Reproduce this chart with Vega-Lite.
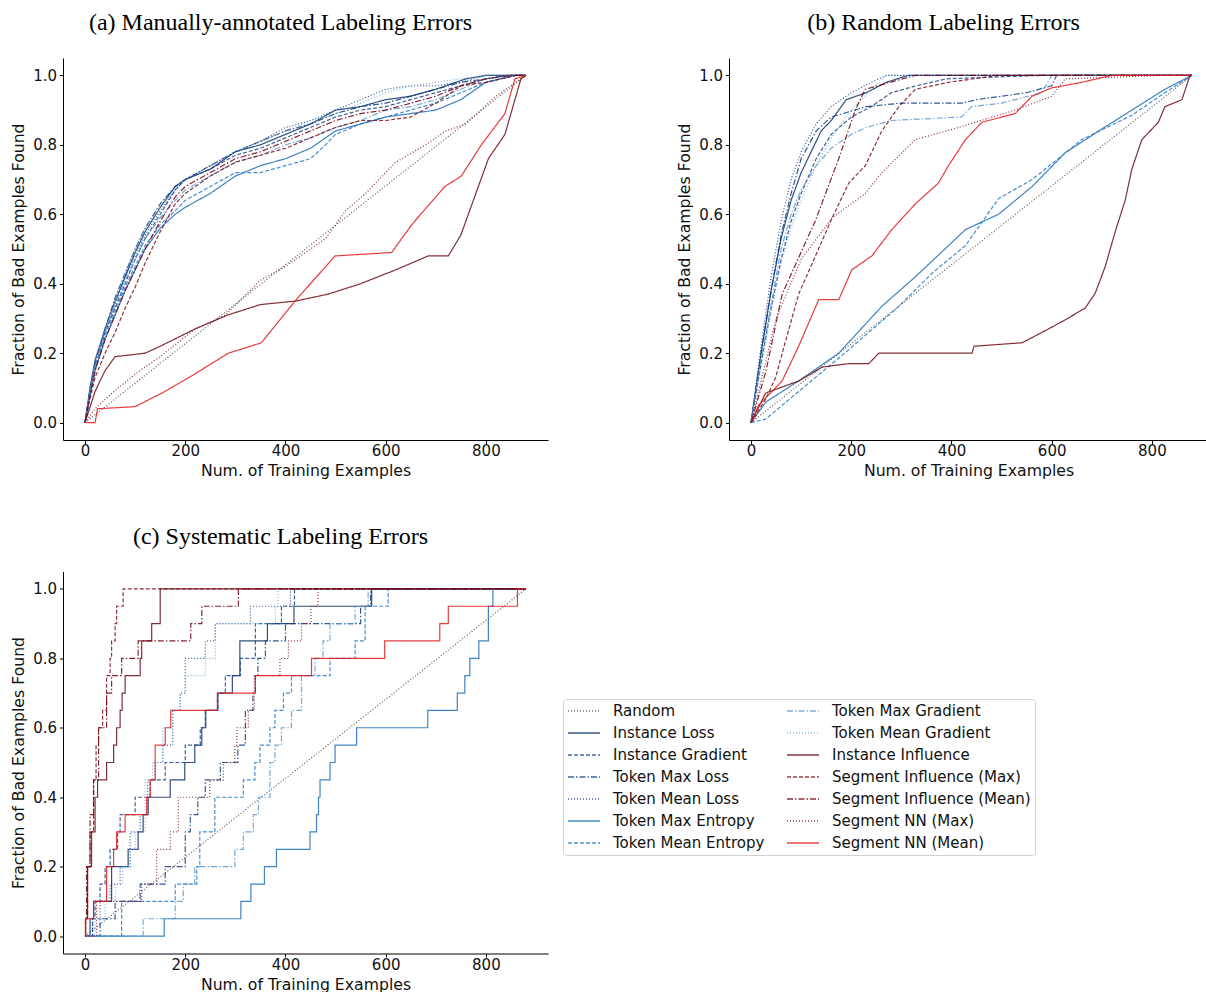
{
"$schema": "https://vega.github.io/schema/vega-lite/v6.json",
"padding": {"left": 10, "top": 11, "right": 0, "bottom": 0},
"background": "white",
"config": {
  "view": {"stroke": null},
  "axis": {"domainColor": "#000", "domainWidth": 1, "tickColor": "#000", "tickSize": 3.5, "tickWidth": 1, "labelFont": "DejaVu Sans", "labelFontSize": 15, "labelColor": "#111", "titleFont": "DejaVu Sans", "titleFontSize": 15.7, "titleFontWeight": "normal", "titleColor": "#111", "grid": false},
  "axisX": {"labelPadding": 0, "titlePadding": 5},
  "axisY": {"labelPadding": 3, "titlePadding": 6},
  "title": {"font": "Liberation Serif", "fontSize": 24, "fontWeight": "normal", "color": "#000", "anchor": "middle", "dx": -25, "offset": 23},
  "legend": {"orient": "none", "legendX": 500, "legendY": 641, "columns": 2, "labelFont": "DejaVu Sans", "labelFontSize": 15, "labelColor": "#111", "labelLimit": 300, "symbolType": "stroke", "symbolSize": 1024, "symbolStrokeWidth": 1.5, "symbolOpacity": 0.8, "clipHeight": 16, "rowPadding": 6, "columnPadding": 21, "padding": 4, "strokeColor": "#d0d0d0", "cornerRadius": 3, "fillColor": "white", "labelOffset": 12}
},
"datasets": {
"a": [
{"m":"Random","x":0,"y":0},{"m":"Random","x":880,"y":1},
{"m":"Instance Loss","x":0,"y":0},{"m":"Instance Loss","x":10,"y":0.1},{"m":"Instance Loss","x":20,"y":0.18},{"m":"Instance Loss","x":40,"y":0.27},{"m":"Instance Loss","x":60,"y":0.35},{"m":"Instance Loss","x":80,"y":0.42},{"m":"Instance Loss","x":100,"y":0.49},{"m":"Instance Loss","x":120,"y":0.55},{"m":"Instance Loss","x":150,"y":0.62},{"m":"Instance Loss","x":180,"y":0.68},{"m":"Instance Loss","x":200,"y":0.7},{"m":"Instance Loss","x":250,"y":0.73},{"m":"Instance Loss","x":300,"y":0.78},{"m":"Instance Loss","x":350,"y":0.8},{"m":"Instance Loss","x":400,"y":0.83},{"m":"Instance Loss","x":450,"y":0.86},{"m":"Instance Loss","x":500,"y":0.9},{"m":"Instance Loss","x":550,"y":0.91},{"m":"Instance Loss","x":600,"y":0.93},{"m":"Instance Loss","x":650,"y":0.94},{"m":"Instance Loss","x":700,"y":0.96},{"m":"Instance Loss","x":760,"y":0.99},{"m":"Instance Loss","x":800,"y":1.0},{"m":"Instance Loss","x":880,"y":1.0},
{"m":"Instance Gradient","x":0,"y":0},{"m":"Instance Gradient","x":10,"y":0.09},{"m":"Instance Gradient","x":20,"y":0.16},{"m":"Instance Gradient","x":40,"y":0.26},{"m":"Instance Gradient","x":60,"y":0.33},{"m":"Instance Gradient","x":80,"y":0.4},{"m":"Instance Gradient","x":100,"y":0.47},{"m":"Instance Gradient","x":120,"y":0.53},{"m":"Instance Gradient","x":150,"y":0.6},{"m":"Instance Gradient","x":180,"y":0.67},{"m":"Instance Gradient","x":200,"y":0.7},{"m":"Instance Gradient","x":250,"y":0.73},{"m":"Instance Gradient","x":300,"y":0.77},{"m":"Instance Gradient","x":350,"y":0.79},{"m":"Instance Gradient","x":400,"y":0.82},{"m":"Instance Gradient","x":450,"y":0.85},{"m":"Instance Gradient","x":500,"y":0.88},{"m":"Instance Gradient","x":550,"y":0.9},{"m":"Instance Gradient","x":600,"y":0.91},{"m":"Instance Gradient","x":650,"y":0.93},{"m":"Instance Gradient","x":700,"y":0.95},{"m":"Instance Gradient","x":750,"y":0.97},{"m":"Instance Gradient","x":800,"y":0.99},{"m":"Instance Gradient","x":850,"y":1.0},{"m":"Instance Gradient","x":880,"y":1.0},
{"m":"Token Max Loss","x":0,"y":0},{"m":"Token Max Loss","x":10,"y":0.1},{"m":"Token Max Loss","x":20,"y":0.17},{"m":"Token Max Loss","x":40,"y":0.27},{"m":"Token Max Loss","x":60,"y":0.36},{"m":"Token Max Loss","x":80,"y":0.43},{"m":"Token Max Loss","x":100,"y":0.5},{"m":"Token Max Loss","x":120,"y":0.56},{"m":"Token Max Loss","x":150,"y":0.63},{"m":"Token Max Loss","x":180,"y":0.68},{"m":"Token Max Loss","x":200,"y":0.7},{"m":"Token Max Loss","x":250,"y":0.74},{"m":"Token Max Loss","x":300,"y":0.78},{"m":"Token Max Loss","x":350,"y":0.81},{"m":"Token Max Loss","x":400,"y":0.84},{"m":"Token Max Loss","x":450,"y":0.86},{"m":"Token Max Loss","x":500,"y":0.89},{"m":"Token Max Loss","x":550,"y":0.91},{"m":"Token Max Loss","x":600,"y":0.92},{"m":"Token Max Loss","x":650,"y":0.94},{"m":"Token Max Loss","x":700,"y":0.96},{"m":"Token Max Loss","x":750,"y":0.98},{"m":"Token Max Loss","x":800,"y":0.99},{"m":"Token Max Loss","x":840,"y":1.0},{"m":"Token Max Loss","x":880,"y":1.0},
{"m":"Token Mean Loss","x":0,"y":0},{"m":"Token Mean Loss","x":10,"y":0.09},{"m":"Token Mean Loss","x":20,"y":0.17},{"m":"Token Mean Loss","x":40,"y":0.26},{"m":"Token Mean Loss","x":60,"y":0.34},{"m":"Token Mean Loss","x":80,"y":0.42},{"m":"Token Mean Loss","x":100,"y":0.48},{"m":"Token Mean Loss","x":120,"y":0.54},{"m":"Token Mean Loss","x":150,"y":0.61},{"m":"Token Mean Loss","x":180,"y":0.67},{"m":"Token Mean Loss","x":200,"y":0.7},{"m":"Token Mean Loss","x":250,"y":0.74},{"m":"Token Mean Loss","x":300,"y":0.78},{"m":"Token Mean Loss","x":350,"y":0.81},{"m":"Token Mean Loss","x":400,"y":0.85},{"m":"Token Mean Loss","x":450,"y":0.87},{"m":"Token Mean Loss","x":500,"y":0.9},{"m":"Token Mean Loss","x":550,"y":0.93},{"m":"Token Mean Loss","x":600,"y":0.96},{"m":"Token Mean Loss","x":650,"y":0.97},{"m":"Token Mean Loss","x":700,"y":0.97},{"m":"Token Mean Loss","x":750,"y":0.98},{"m":"Token Mean Loss","x":800,"y":1.0},{"m":"Token Mean Loss","x":880,"y":1.0},
{"m":"Token Max Entropy","x":0,"y":0},{"m":"Token Max Entropy","x":10,"y":0.08},{"m":"Token Max Entropy","x":20,"y":0.15},{"m":"Token Max Entropy","x":40,"y":0.24},{"m":"Token Max Entropy","x":60,"y":0.31},{"m":"Token Max Entropy","x":80,"y":0.38},{"m":"Token Max Entropy","x":100,"y":0.44},{"m":"Token Max Entropy","x":120,"y":0.5},{"m":"Token Max Entropy","x":150,"y":0.56},{"m":"Token Max Entropy","x":180,"y":0.6},{"m":"Token Max Entropy","x":200,"y":0.62},{"m":"Token Max Entropy","x":250,"y":0.66},{"m":"Token Max Entropy","x":300,"y":0.71},{"m":"Token Max Entropy","x":350,"y":0.74},{"m":"Token Max Entropy","x":400,"y":0.76},{"m":"Token Max Entropy","x":450,"y":0.79},{"m":"Token Max Entropy","x":500,"y":0.84},{"m":"Token Max Entropy","x":550,"y":0.86},{"m":"Token Max Entropy","x":600,"y":0.88},{"m":"Token Max Entropy","x":650,"y":0.89},{"m":"Token Max Entropy","x":700,"y":0.9},{"m":"Token Max Entropy","x":750,"y":0.93},{"m":"Token Max Entropy","x":800,"y":0.98},{"m":"Token Max Entropy","x":860,"y":1.0},{"m":"Token Max Entropy","x":880,"y":1.0},
{"m":"Token Mean Entropy","x":0,"y":0},{"m":"Token Mean Entropy","x":10,"y":0.08},{"m":"Token Mean Entropy","x":20,"y":0.15},{"m":"Token Mean Entropy","x":40,"y":0.25},{"m":"Token Mean Entropy","x":60,"y":0.32},{"m":"Token Mean Entropy","x":80,"y":0.39},{"m":"Token Mean Entropy","x":100,"y":0.45},{"m":"Token Mean Entropy","x":120,"y":0.51},{"m":"Token Mean Entropy","x":150,"y":0.57},{"m":"Token Mean Entropy","x":180,"y":0.61},{"m":"Token Mean Entropy","x":200,"y":0.64},{"m":"Token Mean Entropy","x":250,"y":0.68},{"m":"Token Mean Entropy","x":300,"y":0.72},{"m":"Token Mean Entropy","x":350,"y":0.72},{"m":"Token Mean Entropy","x":400,"y":0.74},{"m":"Token Mean Entropy","x":450,"y":0.76},{"m":"Token Mean Entropy","x":480,"y":0.8},{"m":"Token Mean Entropy","x":500,"y":0.83},{"m":"Token Mean Entropy","x":550,"y":0.86},{"m":"Token Mean Entropy","x":600,"y":0.88},{"m":"Token Mean Entropy","x":650,"y":0.9},{"m":"Token Mean Entropy","x":700,"y":0.92},{"m":"Token Mean Entropy","x":750,"y":0.95},{"m":"Token Mean Entropy","x":800,"y":0.98},{"m":"Token Mean Entropy","x":860,"y":1.0},{"m":"Token Mean Entropy","x":880,"y":1.0},
{"m":"Token Max Gradient","x":0,"y":0},{"m":"Token Max Gradient","x":10,"y":0.09},{"m":"Token Max Gradient","x":20,"y":0.16},{"m":"Token Max Gradient","x":40,"y":0.26},{"m":"Token Max Gradient","x":60,"y":0.34},{"m":"Token Max Gradient","x":80,"y":0.41},{"m":"Token Max Gradient","x":100,"y":0.47},{"m":"Token Max Gradient","x":120,"y":0.53},{"m":"Token Max Gradient","x":150,"y":0.59},{"m":"Token Max Gradient","x":180,"y":0.64},{"m":"Token Max Gradient","x":200,"y":0.67},{"m":"Token Max Gradient","x":250,"y":0.71},{"m":"Token Max Gradient","x":300,"y":0.75},{"m":"Token Max Gradient","x":350,"y":0.77},{"m":"Token Max Gradient","x":400,"y":0.8},{"m":"Token Max Gradient","x":450,"y":0.82},{"m":"Token Max Gradient","x":500,"y":0.85},{"m":"Token Max Gradient","x":550,"y":0.87},{"m":"Token Max Gradient","x":600,"y":0.9},{"m":"Token Max Gradient","x":650,"y":0.91},{"m":"Token Max Gradient","x":700,"y":0.93},{"m":"Token Max Gradient","x":750,"y":0.96},{"m":"Token Max Gradient","x":800,"y":0.99},{"m":"Token Max Gradient","x":850,"y":1.0},{"m":"Token Max Gradient","x":880,"y":1.0},
{"m":"Token Mean Gradient","x":0,"y":0},{"m":"Token Mean Gradient","x":10,"y":0.1},{"m":"Token Mean Gradient","x":20,"y":0.18},{"m":"Token Mean Gradient","x":40,"y":0.27},{"m":"Token Mean Gradient","x":60,"y":0.35},{"m":"Token Mean Gradient","x":80,"y":0.43},{"m":"Token Mean Gradient","x":100,"y":0.5},{"m":"Token Mean Gradient","x":120,"y":0.56},{"m":"Token Mean Gradient","x":150,"y":0.62},{"m":"Token Mean Gradient","x":180,"y":0.67},{"m":"Token Mean Gradient","x":200,"y":0.7},{"m":"Token Mean Gradient","x":250,"y":0.74},{"m":"Token Mean Gradient","x":300,"y":0.78},{"m":"Token Mean Gradient","x":350,"y":0.81},{"m":"Token Mean Gradient","x":400,"y":0.84},{"m":"Token Mean Gradient","x":450,"y":0.87},{"m":"Token Mean Gradient","x":500,"y":0.89},{"m":"Token Mean Gradient","x":550,"y":0.92},{"m":"Token Mean Gradient","x":600,"y":0.95},{"m":"Token Mean Gradient","x":650,"y":0.97},{"m":"Token Mean Gradient","x":700,"y":0.98},{"m":"Token Mean Gradient","x":750,"y":0.99},{"m":"Token Mean Gradient","x":800,"y":1.0},{"m":"Token Mean Gradient","x":880,"y":1.0},
{"m":"Instance Influence","x":0,"y":0},{"m":"Instance Influence","x":20,"y":0.09},{"m":"Instance Influence","x":40,"y":0.15},{"m":"Instance Influence","x":60,"y":0.19},{"m":"Instance Influence","x":120,"y":0.2},{"m":"Instance Influence","x":150,"y":0.22},{"m":"Instance Influence","x":220,"y":0.27},{"m":"Instance Influence","x":285,"y":0.31},{"m":"Instance Influence","x":350,"y":0.34},{"m":"Instance Influence","x":420,"y":0.35},{"m":"Instance Influence","x":485,"y":0.37},{"m":"Instance Influence","x":550,"y":0.4},{"m":"Instance Influence","x":620,"y":0.44},{"m":"Instance Influence","x":685,"y":0.48},{"m":"Instance Influence","x":725,"y":0.48},{"m":"Instance Influence","x":750,"y":0.54},{"m":"Instance Influence","x":785,"y":0.68},{"m":"Instance Influence","x":805,"y":0.76},{"m":"Instance Influence","x":838,"y":0.83},{"m":"Instance Influence","x":870,"y":0.99},{"m":"Instance Influence","x":880,"y":1.0},
{"m":"Segment Influence (Max)","x":0,"y":0},{"m":"Segment Influence (Max)","x":10,"y":0.07},{"m":"Segment Influence (Max)","x":20,"y":0.13},{"m":"Segment Influence (Max)","x":40,"y":0.2},{"m":"Segment Influence (Max)","x":60,"y":0.26},{"m":"Segment Influence (Max)","x":80,"y":0.33},{"m":"Segment Influence (Max)","x":100,"y":0.39},{"m":"Segment Influence (Max)","x":120,"y":0.46},{"m":"Segment Influence (Max)","x":150,"y":0.55},{"m":"Segment Influence (Max)","x":180,"y":0.63},{"m":"Segment Influence (Max)","x":200,"y":0.66},{"m":"Segment Influence (Max)","x":250,"y":0.71},{"m":"Segment Influence (Max)","x":300,"y":0.75},{"m":"Segment Influence (Max)","x":350,"y":0.77},{"m":"Segment Influence (Max)","x":400,"y":0.79},{"m":"Segment Influence (Max)","x":450,"y":0.82},{"m":"Segment Influence (Max)","x":500,"y":0.85},{"m":"Segment Influence (Max)","x":550,"y":0.87},{"m":"Segment Influence (Max)","x":600,"y":0.87},{"m":"Segment Influence (Max)","x":650,"y":0.88},{"m":"Segment Influence (Max)","x":700,"y":0.92},{"m":"Segment Influence (Max)","x":750,"y":0.97},{"m":"Segment Influence (Max)","x":800,"y":0.98},{"m":"Segment Influence (Max)","x":860,"y":1.0},{"m":"Segment Influence (Max)","x":880,"y":1.0},
{"m":"Segment Influence (Mean)","x":0,"y":0},{"m":"Segment Influence (Mean)","x":10,"y":0.08},{"m":"Segment Influence (Mean)","x":20,"y":0.15},{"m":"Segment Influence (Mean)","x":40,"y":0.24},{"m":"Segment Influence (Mean)","x":60,"y":0.31},{"m":"Segment Influence (Mean)","x":80,"y":0.38},{"m":"Segment Influence (Mean)","x":100,"y":0.44},{"m":"Segment Influence (Mean)","x":120,"y":0.5},{"m":"Segment Influence (Mean)","x":150,"y":0.58},{"m":"Segment Influence (Mean)","x":180,"y":0.65},{"m":"Segment Influence (Mean)","x":200,"y":0.68},{"m":"Segment Influence (Mean)","x":250,"y":0.72},{"m":"Segment Influence (Mean)","x":300,"y":0.76},{"m":"Segment Influence (Mean)","x":350,"y":0.78},{"m":"Segment Influence (Mean)","x":400,"y":0.81},{"m":"Segment Influence (Mean)","x":450,"y":0.84},{"m":"Segment Influence (Mean)","x":500,"y":0.87},{"m":"Segment Influence (Mean)","x":550,"y":0.89},{"m":"Segment Influence (Mean)","x":600,"y":0.9},{"m":"Segment Influence (Mean)","x":650,"y":0.92},{"m":"Segment Influence (Mean)","x":700,"y":0.94},{"m":"Segment Influence (Mean)","x":750,"y":0.97},{"m":"Segment Influence (Mean)","x":800,"y":0.99},{"m":"Segment Influence (Mean)","x":850,"y":1.0},{"m":"Segment Influence (Mean)","x":880,"y":1.0},
{"m":"Segment NN (Max)","x":0,"y":0},{"m":"Segment NN (Max)","x":20,"y":0.04},{"m":"Segment NN (Max)","x":50,"y":0.08},{"m":"Segment NN (Max)","x":100,"y":0.14},{"m":"Segment NN (Max)","x":150,"y":0.19},{"m":"Segment NN (Max)","x":220,"y":0.27},{"m":"Segment NN (Max)","x":280,"y":0.31},{"m":"Segment NN (Max)","x":350,"y":0.41},{"m":"Segment NN (Max)","x":400,"y":0.45},{"m":"Segment NN (Max)","x":450,"y":0.5},{"m":"Segment NN (Max)","x":480,"y":0.53},{"m":"Segment NN (Max)","x":520,"y":0.61},{"m":"Segment NN (Max)","x":560,"y":0.66},{"m":"Segment NN (Max)","x":620,"y":0.75},{"m":"Segment NN (Max)","x":680,"y":0.8},{"m":"Segment NN (Max)","x":720,"y":0.84},{"m":"Segment NN (Max)","x":760,"y":0.86},{"m":"Segment NN (Max)","x":820,"y":0.94},{"m":"Segment NN (Max)","x":860,"y":0.98},{"m":"Segment NN (Max)","x":880,"y":1.0},
{"m":"Segment NN (Mean)","x":0,"y":0},{"m":"Segment NN (Mean)","x":20,"y":0.0},{"m":"Segment NN (Mean)","x":25,"y":0.04},{"m":"Segment NN (Mean)","x":100,"y":0.046},{"m":"Segment NN (Mean)","x":153,"y":0.085},{"m":"Segment NN (Mean)","x":219,"y":0.14},{"m":"Segment NN (Mean)","x":286,"y":0.2},{"m":"Segment NN (Mean)","x":352,"y":0.23},{"m":"Segment NN (Mean)","x":419,"y":0.35},{"m":"Segment NN (Mean)","x":499,"y":0.48},{"m":"Segment NN (Mean)","x":612,"y":0.49},{"m":"Segment NN (Mean)","x":652,"y":0.57},{"m":"Segment NN (Mean)","x":718,"y":0.68},{"m":"Segment NN (Mean)","x":751,"y":0.71},{"m":"Segment NN (Mean)","x":791,"y":0.8},{"m":"Segment NN (Mean)","x":838,"y":0.89},{"m":"Segment NN (Mean)","x":858,"y":0.99},{"m":"Segment NN (Mean)","x":880,"y":1.0}
],
"b": [
{"m":"Random","x":0,"y":0},{"m":"Random","x":880,"y":1},
{"m":"Instance Loss","x":0,"y":0},{"m":"Instance Loss","x":20,"y":0.2},{"m":"Instance Loss","x":40,"y":0.38},{"m":"Instance Loss","x":60,"y":0.53},{"m":"Instance Loss","x":80,"y":0.64},{"m":"Instance Loss","x":100,"y":0.72},{"m":"Instance Loss","x":120,"y":0.78},{"m":"Instance Loss","x":140,"y":0.84},{"m":"Instance Loss","x":160,"y":0.87},{"m":"Instance Loss","x":190,"y":0.93},{"m":"Instance Loss","x":230,"y":0.95},{"m":"Instance Loss","x":270,"y":0.98},{"m":"Instance Loss","x":314,"y":1.0},{"m":"Instance Loss","x":880,"y":1.0},
{"m":"Instance Gradient","x":0,"y":0},{"m":"Instance Gradient","x":20,"y":0.17},{"m":"Instance Gradient","x":40,"y":0.33},{"m":"Instance Gradient","x":60,"y":0.47},{"m":"Instance Gradient","x":80,"y":0.58},{"m":"Instance Gradient","x":100,"y":0.66},{"m":"Instance Gradient","x":130,"y":0.76},{"m":"Instance Gradient","x":160,"y":0.83},{"m":"Instance Gradient","x":200,"y":0.88},{"m":"Instance Gradient","x":240,"y":0.91},{"m":"Instance Gradient","x":280,"y":0.95},{"m":"Instance Gradient","x":330,"y":0.97},{"m":"Instance Gradient","x":390,"y":0.99},{"m":"Instance Gradient","x":580,"y":1.0},{"m":"Instance Gradient","x":880,"y":1.0},
{"m":"Token Max Loss","x":0,"y":0},{"m":"Token Max Loss","x":20,"y":0.2},{"m":"Token Max Loss","x":40,"y":0.38},{"m":"Token Max Loss","x":60,"y":0.54},{"m":"Token Max Loss","x":80,"y":0.66},{"m":"Token Max Loss","x":100,"y":0.76},{"m":"Token Max Loss","x":130,"y":0.84},{"m":"Token Max Loss","x":160,"y":0.88},{"m":"Token Max Loss","x":230,"y":0.91},{"m":"Token Max Loss","x":300,"y":0.92},{"m":"Token Max Loss","x":420,"y":0.92},{"m":"Token Max Loss","x":450,"y":0.93},{"m":"Token Max Loss","x":500,"y":0.94},{"m":"Token Max Loss","x":550,"y":0.95},{"m":"Token Max Loss","x":600,"y":0.97},{"m":"Token Max Loss","x":610,"y":1.0},{"m":"Token Max Loss","x":880,"y":1.0},
{"m":"Token Mean Loss","x":0,"y":0},{"m":"Token Mean Loss","x":20,"y":0.22},{"m":"Token Mean Loss","x":40,"y":0.42},{"m":"Token Mean Loss","x":60,"y":0.58},{"m":"Token Mean Loss","x":80,"y":0.7},{"m":"Token Mean Loss","x":100,"y":0.78},{"m":"Token Mean Loss","x":130,"y":0.86},{"m":"Token Mean Loss","x":160,"y":0.91},{"m":"Token Mean Loss","x":200,"y":0.95},{"m":"Token Mean Loss","x":240,"y":0.98},{"m":"Token Mean Loss","x":270,"y":1.0},{"m":"Token Mean Loss","x":880,"y":1.0},
{"m":"Token Max Entropy","x":0,"y":0},{"m":"Token Max Entropy","x":30,"y":0.06},{"m":"Token Max Entropy","x":95,"y":0.12},{"m":"Token Max Entropy","x":175,"y":0.2},{"m":"Token Max Entropy","x":261,"y":0.335},{"m":"Token Max Entropy","x":328,"y":0.42},{"m":"Token Max Entropy","x":428,"y":0.556},{"m":"Token Max Entropy","x":494,"y":0.6},{"m":"Token Max Entropy","x":561,"y":0.68},{"m":"Token Max Entropy","x":627,"y":0.777},{"m":"Token Max Entropy","x":694,"y":0.84},{"m":"Token Max Entropy","x":760,"y":0.9},{"m":"Token Max Entropy","x":826,"y":0.96},{"m":"Token Max Entropy","x":880,"y":1.0},
{"m":"Token Mean Entropy","x":0,"y":0},{"m":"Token Mean Entropy","x":29,"y":0.01},{"m":"Token Mean Entropy","x":95,"y":0.09},{"m":"Token Mean Entropy","x":195,"y":0.21},{"m":"Token Mean Entropy","x":295,"y":0.335},{"m":"Token Mean Entropy","x":361,"y":0.43},{"m":"Token Mean Entropy","x":428,"y":0.51},{"m":"Token Mean Entropy","x":494,"y":0.645},{"m":"Token Mean Entropy","x":561,"y":0.7},{"m":"Token Mean Entropy","x":660,"y":0.815},{"m":"Token Mean Entropy","x":760,"y":0.885},{"m":"Token Mean Entropy","x":826,"y":0.95},{"m":"Token Mean Entropy","x":880,"y":1.0},
{"m":"Token Max Gradient","x":0,"y":0},{"m":"Token Max Gradient","x":20,"y":0.18},{"m":"Token Max Gradient","x":40,"y":0.34},{"m":"Token Max Gradient","x":60,"y":0.5},{"m":"Token Max Gradient","x":80,"y":0.6},{"m":"Token Max Gradient","x":100,"y":0.67},{"m":"Token Max Gradient","x":130,"y":0.74},{"m":"Token Max Gradient","x":160,"y":0.79},{"m":"Token Max Gradient","x":200,"y":0.83},{"m":"Token Max Gradient","x":230,"y":0.85},{"m":"Token Max Gradient","x":280,"y":0.87},{"m":"Token Max Gradient","x":420,"y":0.88},{"m":"Token Max Gradient","x":440,"y":0.91},{"m":"Token Max Gradient","x":500,"y":0.92},{"m":"Token Max Gradient","x":580,"y":0.95},{"m":"Token Max Gradient","x":600,"y":1.0},{"m":"Token Max Gradient","x":880,"y":1.0},
{"m":"Token Mean Gradient","x":0,"y":0},{"m":"Token Mean Gradient","x":20,"y":0.16},{"m":"Token Mean Gradient","x":40,"y":0.32},{"m":"Token Mean Gradient","x":60,"y":0.46},{"m":"Token Mean Gradient","x":80,"y":0.56},{"m":"Token Mean Gradient","x":100,"y":0.64},{"m":"Token Mean Gradient","x":130,"y":0.74},{"m":"Token Mean Gradient","x":160,"y":0.82},{"m":"Token Mean Gradient","x":200,"y":0.9},{"m":"Token Mean Gradient","x":240,"y":0.96},{"m":"Token Mean Gradient","x":270,"y":1.0},{"m":"Token Mean Gradient","x":880,"y":1.0},
{"m":"Instance Influence","x":0,"y":0},{"m":"Instance Influence","x":29,"y":0.085},{"m":"Instance Influence","x":95,"y":0.12},{"m":"Instance Influence","x":142,"y":0.16},{"m":"Instance Influence","x":195,"y":0.17},{"m":"Instance Influence","x":235,"y":0.17},{"m":"Instance Influence","x":255,"y":0.2},{"m":"Instance Influence","x":441,"y":0.2},{"m":"Instance Influence","x":445,"y":0.22},{"m":"Instance Influence","x":541,"y":0.23},{"m":"Instance Influence","x":594,"y":0.27},{"m":"Instance Influence","x":627,"y":0.296},{"m":"Instance Influence","x":667,"y":0.33},{"m":"Instance Influence","x":687,"y":0.373},{"m":"Instance Influence","x":707,"y":0.45},{"m":"Instance Influence","x":726,"y":0.546},{"m":"Instance Influence","x":747,"y":0.642},{"m":"Instance Influence","x":760,"y":0.73},{"m":"Instance Influence","x":780,"y":0.815},{"m":"Instance Influence","x":813,"y":0.865},{"m":"Instance Influence","x":826,"y":0.91},{"m":"Instance Influence","x":860,"y":0.93},{"m":"Instance Influence","x":876,"y":1.0},{"m":"Instance Influence","x":880,"y":1.0},
{"m":"Segment Influence (Max)","x":0,"y":0},{"m":"Segment Influence (Max)","x":30,"y":0.07},{"m":"Segment Influence (Max)","x":49,"y":0.13},{"m":"Segment Influence (Max)","x":68,"y":0.23},{"m":"Segment Influence (Max)","x":95,"y":0.37},{"m":"Segment Influence (Max)","x":162,"y":0.59},{"m":"Segment Influence (Max)","x":195,"y":0.69},{"m":"Segment Influence (Max)","x":228,"y":0.74},{"m":"Segment Influence (Max)","x":261,"y":0.84},{"m":"Segment Influence (Max)","x":295,"y":0.91},{"m":"Segment Influence (Max)","x":328,"y":0.96},{"m":"Segment Influence (Max)","x":394,"y":0.98},{"m":"Segment Influence (Max)","x":494,"y":1.0},{"m":"Segment Influence (Max)","x":880,"y":1.0},
{"m":"Segment Influence (Mean)","x":0,"y":0},{"m":"Segment Influence (Mean)","x":30,"y":0.15},{"m":"Segment Influence (Mean)","x":62,"y":0.37},{"m":"Segment Influence (Mean)","x":128,"y":0.58},{"m":"Segment Influence (Mean)","x":175,"y":0.76},{"m":"Segment Influence (Mean)","x":208,"y":0.9},{"m":"Segment Influence (Mean)","x":228,"y":0.96},{"m":"Segment Influence (Mean)","x":328,"y":1.0},{"m":"Segment Influence (Mean)","x":880,"y":1.0},
{"m":"Segment NN (Max)","x":0,"y":0},{"m":"Segment NN (Max)","x":50,"y":0.3},{"m":"Segment NN (Max)","x":100,"y":0.47},{"m":"Segment NN (Max)","x":162,"y":0.59},{"m":"Segment NN (Max)","x":228,"y":0.66},{"m":"Segment NN (Max)","x":261,"y":0.72},{"m":"Segment NN (Max)","x":328,"y":0.815},{"m":"Segment NN (Max)","x":414,"y":0.85},{"m":"Segment NN (Max)","x":527,"y":0.9},{"m":"Segment NN (Max)","x":600,"y":0.94},{"m":"Segment NN (Max)","x":627,"y":0.99},{"m":"Segment NN (Max)","x":826,"y":1.0},{"m":"Segment NN (Max)","x":880,"y":1.0},
{"m":"Segment NN (Mean)","x":0,"y":0},{"m":"Segment NN (Mean)","x":15,"y":0.05},{"m":"Segment NN (Mean)","x":62,"y":0.12},{"m":"Segment NN (Mean)","x":95,"y":0.22},{"m":"Segment NN (Mean)","x":135,"y":0.354},{"m":"Segment NN (Mean)","x":175,"y":0.354},{"m":"Segment NN (Mean)","x":201,"y":0.44},{"m":"Segment NN (Mean)","x":241,"y":0.48},{"m":"Segment NN (Mean)","x":281,"y":0.556},{"m":"Segment NN (Mean)","x":328,"y":0.63},{"m":"Segment NN (Mean)","x":374,"y":0.69},{"m":"Segment NN (Mean)","x":394,"y":0.74},{"m":"Segment NN (Mean)","x":428,"y":0.815},{"m":"Segment NN (Mean)","x":461,"y":0.865},{"m":"Segment NN (Mean)","x":527,"y":0.89},{"m":"Segment NN (Mean)","x":561,"y":0.94},{"m":"Segment NN (Mean)","x":600,"y":0.964},{"m":"Segment NN (Mean)","x":660,"y":0.98},{"m":"Segment NN (Mean)","x":720,"y":1.0},{"m":"Segment NN (Mean)","x":880,"y":1.0}
],
"c": [
{"m":"Random","x":0,"y":0},{"m":"Random","x":880,"y":1},
{"m":"Instance Loss","x":0,"y":0},{"m":"Instance Loss","x":10,"y":0.05},{"m":"Instance Loss","x":17,"y":0.1},{"m":"Instance Loss","x":53,"y":0.2},{"m":"Instance Loss","x":86,"y":0.25},{"m":"Instance Loss","x":106,"y":0.3},{"m":"Instance Loss","x":116,"y":0.35},{"m":"Instance Loss","x":126,"y":0.4},{"m":"Instance Loss","x":170,"y":0.45},{"m":"Instance Loss","x":199,"y":0.5},{"m":"Instance Loss","x":219,"y":0.55},{"m":"Instance Loss","x":233,"y":0.6},{"m":"Instance Loss","x":241,"y":0.65},{"m":"Instance Loss","x":265,"y":0.7},{"m":"Instance Loss","x":294,"y":0.75},{"m":"Instance Loss","x":309,"y":0.85},{"m":"Instance Loss","x":364,"y":0.9},{"m":"Instance Loss","x":417,"y":0.95},{"m":"Instance Loss","x":572,"y":1.0},{"m":"Instance Loss","x":880,"y":1.0},
{"m":"Instance Gradient","x":0,"y":0},{"m":"Instance Gradient","x":15,"y":0.05},{"m":"Instance Gradient","x":20,"y":0.1},{"m":"Instance Gradient","x":30,"y":0.15},{"m":"Instance Gradient","x":40,"y":0.2},{"m":"Instance Gradient","x":50,"y":0.25},{"m":"Instance Gradient","x":65,"y":0.3},{"m":"Instance Gradient","x":70,"y":0.35},{"m":"Instance Gradient","x":100,"y":0.4},{"m":"Instance Gradient","x":130,"y":0.45},{"m":"Instance Gradient","x":160,"y":0.5},{"m":"Instance Gradient","x":200,"y":0.55},{"m":"Instance Gradient","x":230,"y":0.6},{"m":"Instance Gradient","x":240,"y":0.65},{"m":"Instance Gradient","x":265,"y":0.7},{"m":"Instance Gradient","x":280,"y":0.75},{"m":"Instance Gradient","x":310,"y":0.8},{"m":"Instance Gradient","x":340,"y":0.9},{"m":"Instance Gradient","x":392,"y":0.95},{"m":"Instance Gradient","x":418,"y":1.0},{"m":"Instance Gradient","x":880,"y":1.0},
{"m":"Token Max Loss","x":0,"y":0},{"m":"Token Max Loss","x":30,"y":0.05},{"m":"Token Max Loss","x":60,"y":0.1},{"m":"Token Max Loss","x":110,"y":0.15},{"m":"Token Max Loss","x":160,"y":0.2},{"m":"Token Max Loss","x":200,"y":0.3},{"m":"Token Max Loss","x":210,"y":0.35},{"m":"Token Max Loss","x":225,"y":0.4},{"m":"Token Max Loss","x":240,"y":0.45},{"m":"Token Max Loss","x":270,"y":0.5},{"m":"Token Max Loss","x":305,"y":0.55},{"m":"Token Max Loss","x":320,"y":0.65},{"m":"Token Max Loss","x":335,"y":0.7},{"m":"Token Max Loss","x":340,"y":0.75},{"m":"Token Max Loss","x":345,"y":0.8},{"m":"Token Max Loss","x":360,"y":0.85},{"m":"Token Max Loss","x":400,"y":0.9},{"m":"Token Max Loss","x":550,"y":0.95},{"m":"Token Max Loss","x":570,"y":1.0},{"m":"Token Max Loss","x":880,"y":1.0},
{"m":"Token Mean Loss","x":0,"y":0},{"m":"Token Mean Loss","x":15,"y":0.05},{"m":"Token Mean Loss","x":30,"y":0.1},{"m":"Token Mean Loss","x":50,"y":0.15},{"m":"Token Mean Loss","x":70,"y":0.2},{"m":"Token Mean Loss","x":90,"y":0.3},{"m":"Token Mean Loss","x":110,"y":0.35},{"m":"Token Mean Loss","x":125,"y":0.45},{"m":"Token Mean Loss","x":140,"y":0.5},{"m":"Token Mean Loss","x":155,"y":0.55},{"m":"Token Mean Loss","x":175,"y":0.65},{"m":"Token Mean Loss","x":190,"y":0.7},{"m":"Token Mean Loss","x":200,"y":0.8},{"m":"Token Mean Loss","x":240,"y":0.85},{"m":"Token Mean Loss","x":260,"y":0.9},{"m":"Token Mean Loss","x":330,"y":0.95},{"m":"Token Mean Loss","x":410,"y":1.0},{"m":"Token Mean Loss","x":880,"y":1.0},
{"m":"Token Max Entropy","x":0,"y":0},{"m":"Token Max Entropy","x":158,"y":0.05},{"m":"Token Max Entropy","x":311,"y":0.1},{"m":"Token Max Entropy","x":331,"y":0.15},{"m":"Token Max Entropy","x":358,"y":0.2},{"m":"Token Max Entropy","x":382,"y":0.25},{"m":"Token Max Entropy","x":449,"y":0.3},{"m":"Token Max Entropy","x":462,"y":0.35},{"m":"Token Max Entropy","x":466,"y":0.4},{"m":"Token Max Entropy","x":469,"y":0.45},{"m":"Token Max Entropy","x":489,"y":0.5},{"m":"Token Max Entropy","x":499,"y":0.55},{"m":"Token Max Entropy","x":542,"y":0.6},{"m":"Token Max Entropy","x":684,"y":0.65},{"m":"Token Max Entropy","x":743,"y":0.7},{"m":"Token Max Entropy","x":758,"y":0.75},{"m":"Token Max Entropy","x":768,"y":0.8},{"m":"Token Max Entropy","x":786,"y":0.85},{"m":"Token Max Entropy","x":805,"y":0.95},{"m":"Token Max Entropy","x":814,"y":1.0},{"m":"Token Max Entropy","x":880,"y":1.0},
{"m":"Token Mean Entropy","x":0,"y":0},{"m":"Token Mean Entropy","x":73,"y":0.1},{"m":"Token Mean Entropy","x":180,"y":0.15},{"m":"Token Mean Entropy","x":223,"y":0.2},{"m":"Token Mean Entropy","x":229,"y":0.3},{"m":"Token Mean Entropy","x":259,"y":0.4},{"m":"Token Mean Entropy","x":316,"y":0.45},{"m":"Token Mean Entropy","x":339,"y":0.5},{"m":"Token Mean Entropy","x":349,"y":0.55},{"m":"Token Mean Entropy","x":369,"y":0.6},{"m":"Token Mean Entropy","x":379,"y":0.65},{"m":"Token Mean Entropy","x":396,"y":0.7},{"m":"Token Mean Entropy","x":412,"y":0.75},{"m":"Token Mean Entropy","x":489,"y":0.8},{"m":"Token Mean Entropy","x":539,"y":0.85},{"m":"Token Mean Entropy","x":559,"y":0.95},{"m":"Token Mean Entropy","x":605,"y":1.0},{"m":"Token Mean Entropy","x":880,"y":1.0},
{"m":"Token Max Gradient","x":0,"y":0},{"m":"Token Max Gradient","x":116,"y":0.05},{"m":"Token Max Gradient","x":180,"y":0.1},{"m":"Token Max Gradient","x":196,"y":0.15},{"m":"Token Max Gradient","x":219,"y":0.2},{"m":"Token Max Gradient","x":299,"y":0.25},{"m":"Token Max Gradient","x":316,"y":0.3},{"m":"Token Max Gradient","x":336,"y":0.35},{"m":"Token Max Gradient","x":346,"y":0.4},{"m":"Token Max Gradient","x":369,"y":0.5},{"m":"Token Max Gradient","x":379,"y":0.55},{"m":"Token Max Gradient","x":392,"y":0.6},{"m":"Token Max Gradient","x":412,"y":0.65},{"m":"Token Max Gradient","x":432,"y":0.75},{"m":"Token Max Gradient","x":459,"y":0.8},{"m":"Token Max Gradient","x":475,"y":0.85},{"m":"Token Max Gradient","x":489,"y":0.9},{"m":"Token Max Gradient","x":539,"y":0.95},{"m":"Token Max Gradient","x":565,"y":1.0},{"m":"Token Max Gradient","x":880,"y":1.0},
{"m":"Token Mean Gradient","x":0,"y":0},{"m":"Token Mean Gradient","x":20,"y":0.05},{"m":"Token Mean Gradient","x":40,"y":0.1},{"m":"Token Mean Gradient","x":60,"y":0.15},{"m":"Token Mean Gradient","x":75,"y":0.2},{"m":"Token Mean Gradient","x":90,"y":0.25},{"m":"Token Mean Gradient","x":100,"y":0.3},{"m":"Token Mean Gradient","x":120,"y":0.45},{"m":"Token Mean Gradient","x":135,"y":0.5},{"m":"Token Mean Gradient","x":155,"y":0.6},{"m":"Token Mean Gradient","x":175,"y":0.65},{"m":"Token Mean Gradient","x":190,"y":0.7},{"m":"Token Mean Gradient","x":200,"y":0.75},{"m":"Token Mean Gradient","x":240,"y":0.8},{"m":"Token Mean Gradient","x":260,"y":0.9},{"m":"Token Mean Gradient","x":380,"y":0.95},{"m":"Token Mean Gradient","x":385,"y":1.0},{"m":"Token Mean Gradient","x":880,"y":1.0},
{"m":"Instance Influence","x":0,"y":0},{"m":"Instance Influence","x":1,"y":0.05},{"m":"Instance Influence","x":5,"y":0.2},{"m":"Instance Influence","x":13,"y":0.3},{"m":"Instance Influence","x":20,"y":0.4},{"m":"Instance Influence","x":25,"y":0.45},{"m":"Instance Influence","x":43,"y":0.5},{"m":"Instance Influence","x":57,"y":0.55},{"m":"Instance Influence","x":63,"y":0.6},{"m":"Instance Influence","x":70,"y":0.65},{"m":"Instance Influence","x":74,"y":0.7},{"m":"Instance Influence","x":80,"y":0.75},{"m":"Instance Influence","x":110,"y":0.8},{"m":"Instance Influence","x":113,"y":0.85},{"m":"Instance Influence","x":133,"y":0.9},{"m":"Instance Influence","x":150,"y":1.0},{"m":"Instance Influence","x":880,"y":1.0},
{"m":"Segment Influence (Max)","x":0,"y":0},{"m":"Segment Influence (Max)","x":1,"y":0.05},{"m":"Segment Influence (Max)","x":5,"y":0.2},{"m":"Segment Influence (Max)","x":10,"y":0.3},{"m":"Segment Influence (Max)","x":17,"y":0.45},{"m":"Segment Influence (Max)","x":22,"y":0.55},{"m":"Segment Influence (Max)","x":27,"y":0.6},{"m":"Segment Influence (Max)","x":35,"y":0.65},{"m":"Segment Influence (Max)","x":43,"y":0.75},{"m":"Segment Influence (Max)","x":50,"y":0.8},{"m":"Segment Influence (Max)","x":53,"y":0.85},{"m":"Segment Influence (Max)","x":60,"y":0.9},{"m":"Segment Influence (Max)","x":63,"y":0.95},{"m":"Segment Influence (Max)","x":76,"y":1.0},{"m":"Segment Influence (Max)","x":880,"y":1.0},
{"m":"Segment Influence (Mean)","x":0,"y":0},{"m":"Segment Influence (Mean)","x":1,"y":0.05},{"m":"Segment Influence (Mean)","x":3,"y":0.2},{"m":"Segment Influence (Mean)","x":10,"y":0.35},{"m":"Segment Influence (Mean)","x":17,"y":0.45},{"m":"Segment Influence (Mean)","x":27,"y":0.6},{"m":"Segment Influence (Mean)","x":43,"y":0.7},{"m":"Segment Influence (Mean)","x":53,"y":0.75},{"m":"Segment Influence (Mean)","x":73,"y":0.8},{"m":"Segment Influence (Mean)","x":106,"y":0.85},{"m":"Segment Influence (Mean)","x":211,"y":0.9},{"m":"Segment Influence (Mean)","x":233,"y":0.95},{"m":"Segment Influence (Mean)","x":306,"y":1.0},{"m":"Segment Influence (Mean)","x":880,"y":1.0},
{"m":"Segment NN (Max)","x":0,"y":0},{"m":"Segment NN (Max)","x":23,"y":0.1},{"m":"Segment NN (Max)","x":113,"y":0.15},{"m":"Segment NN (Max)","x":143,"y":0.25},{"m":"Segment NN (Max)","x":170,"y":0.3},{"m":"Segment NN (Max)","x":186,"y":0.4},{"m":"Segment NN (Max)","x":249,"y":0.45},{"m":"Segment NN (Max)","x":276,"y":0.5},{"m":"Segment NN (Max)","x":299,"y":0.55},{"m":"Segment NN (Max)","x":303,"y":0.6},{"m":"Segment NN (Max)","x":326,"y":0.65},{"m":"Segment NN (Max)","x":338,"y":0.75},{"m":"Segment NN (Max)","x":389,"y":0.8},{"m":"Segment NN (Max)","x":406,"y":0.85},{"m":"Segment NN (Max)","x":432,"y":0.9},{"m":"Segment NN (Max)","x":451,"y":0.95},{"m":"Segment NN (Max)","x":465,"y":1.0},{"m":"Segment NN (Max)","x":880,"y":1.0},
{"m":"Segment NN (Mean)","x":0,"y":0},{"m":"Segment NN (Mean)","x":1,"y":0.05},{"m":"Segment NN (Mean)","x":17,"y":0.1},{"m":"Segment NN (Mean)","x":43,"y":0.2},{"m":"Segment NN (Mean)","x":57,"y":0.25},{"m":"Segment NN (Mean)","x":63,"y":0.3},{"m":"Segment NN (Mean)","x":80,"y":0.35},{"m":"Segment NN (Mean)","x":123,"y":0.4},{"m":"Segment NN (Mean)","x":130,"y":0.45},{"m":"Segment NN (Mean)","x":140,"y":0.55},{"m":"Segment NN (Mean)","x":160,"y":0.6},{"m":"Segment NN (Mean)","x":171,"y":0.65},{"m":"Segment NN (Mean)","x":264,"y":0.7},{"m":"Segment NN (Mean)","x":340,"y":0.75},{"m":"Segment NN (Mean)","x":452,"y":0.8},{"m":"Segment NN (Mean)","x":598,"y":0.85},{"m":"Segment NN (Mean)","x":708,"y":0.9},{"m":"Segment NN (Mean)","x":725,"y":0.95},{"m":"Segment NN (Mean)","x":863,"y":1.0},{"m":"Segment NN (Mean)","x":880,"y":1.0}
]
},
"bounds": "flush",
"columns": 2,
"spacing": {"row": 131.5, "column": 181},
"concat": [
{
 "width": 485, "height": 382,
 "title": {"text": "(a) Manually-annotated Labeling Errors"},
 "data": {"name": "a"},
 "mark": {"type": "line", "strokeWidth": 1.2, "opacity": 0.85, "clip": true},
 "encoding": {
  "x": {"field": "x", "type": "quantitative", "scale": {"domain": [-44, 924], "nice": false, "zero": false}, "axis": {"values": [0, 200, 400, 600, 800], "title": "Num. of Training Examples"}},
  "y": {"field": "y", "type": "quantitative", "scale": {"domain": [-0.05, 1.05], "nice": false, "zero": false}, "axis": {"values": [0, 0.2, 0.4, 0.6, 0.8, 1.0], "format": ".1f", "title": "Fraction of Bad Examples Found"}},
  "color": {"field": "m", "type": "nominal", "scale": {"domain": ["Random","Instance Loss","Instance Gradient","Token Max Loss","Token Mean Loss","Token Max Entropy","Token Mean Entropy","Token Max Gradient","Token Mean Gradient","Instance Influence","Segment Influence (Max)","Segment Influence (Mean)","Segment NN (Max)","Segment NN (Mean)"], "range": ["#444444","#0a2f6b","#1a4585","#103c80","#0d3a8a","#1f6db5","#2878c5","#5b9bd5","#6aa7dc","#6b0a14","#7a0f1a","#6e0010","#7a1020","#e31a1c"]}, "legend": {"title": null}},
  "strokeDash": {"field": "m", "type": "nominal", "scale": {"domain": ["Random","Instance Loss","Instance Gradient","Token Max Loss","Token Mean Loss","Token Max Entropy","Token Mean Entropy","Token Max Gradient","Token Mean Gradient","Instance Influence","Segment Influence (Max)","Segment Influence (Mean)","Segment NN (Max)","Segment NN (Mean)"], "range": [[1,2],[1,0],[4,2],[6,2,1.5,2],[1,2],[1,0],[4,2],[6,2,1.5,2],[1,2],[1,0],[4,2],[6,2,1.5,2],[1,2],[1,0]]}, "legend": {"title": null}}
 }
},
{
 "width": 479, "height": 382,
 "title": {"text": "(b) Random Labeling Errors"},
 "data": {"name": "b"},
 "mark": {"type": "line", "strokeWidth": 1.2, "opacity": 0.85, "clip": true},
 "encoding": {
  "x": {"field": "x", "type": "quantitative", "scale": {"domain": [-44, 912], "nice": false, "zero": false}, "axis": {"values": [0, 200, 400, 600, 800], "title": "Num. of Training Examples"}},
  "y": {"field": "y", "type": "quantitative", "scale": {"domain": [-0.05, 1.05], "nice": false, "zero": false}, "axis": {"values": [0, 0.2, 0.4, 0.6, 0.8, 1.0], "format": ".1f", "title": "Fraction of Bad Examples Found"}},
  "color": {"field": "m", "type": "nominal", "scale": {"domain": ["Random","Instance Loss","Instance Gradient","Token Max Loss","Token Mean Loss","Token Max Entropy","Token Mean Entropy","Token Max Gradient","Token Mean Gradient","Instance Influence","Segment Influence (Max)","Segment Influence (Mean)","Segment NN (Max)","Segment NN (Mean)"], "range": ["#444444","#0a2f6b","#1a4585","#103c80","#0d3a8a","#1f6db5","#2878c5","#5b9bd5","#6aa7dc","#6b0a14","#7a0f1a","#6e0010","#7a1020","#e31a1c"]}, "legend": {"title": null}},
  "strokeDash": {"field": "m", "type": "nominal", "scale": {"domain": ["Random","Instance Loss","Instance Gradient","Token Max Loss","Token Mean Loss","Token Max Entropy","Token Mean Entropy","Token Max Gradient","Token Mean Gradient","Instance Influence","Segment Influence (Max)","Segment Influence (Mean)","Segment NN (Max)","Segment NN (Mean)"], "range": [[1,2],[1,0],[4,2],[6,2,1.5,2],[1,2],[1,0],[4,2],[6,2,1.5,2],[1,2],[1,0],[4,2],[6,2,1.5,2],[1,2],[1,0]]}, "legend": {"title": null}}
 }
},
{
 "width": 485, "height": 382,
 "title": {"text": "(c) Systematic Labeling Errors"},
 "data": {"name": "c"},
 "encoding": {
  "x": {"field": "x", "type": "quantitative", "scale": {"domain": [-44, 924], "nice": false, "zero": false}, "axis": {"values": [0, 200, 400, 600, 800], "title": "Num. of Training Examples"}},
  "y": {"field": "y", "type": "quantitative", "scale": {"domain": [-0.05, 1.05], "nice": false, "zero": false}, "axis": {"values": [0, 0.2, 0.4, 0.6, 0.8, 1.0], "format": ".1f", "title": "Fraction of Bad Examples Found"}},
  "color": {"field": "m", "type": "nominal", "scale": {"domain": ["Random","Instance Loss","Instance Gradient","Token Max Loss","Token Mean Loss","Token Max Entropy","Token Mean Entropy","Token Max Gradient","Token Mean Gradient","Instance Influence","Segment Influence (Max)","Segment Influence (Mean)","Segment NN (Max)","Segment NN (Mean)"], "range": ["#444444","#0a2f6b","#1a4585","#103c80","#0d3a8a","#1f6db5","#2878c5","#5b9bd5","#6aa7dc","#6b0a14","#7a0f1a","#6e0010","#7a1020","#e31a1c"]}, "legend": {"title": null}},
  "strokeDash": {"field": "m", "type": "nominal", "scale": {"domain": ["Random","Instance Loss","Instance Gradient","Token Max Loss","Token Mean Loss","Token Max Entropy","Token Mean Entropy","Token Max Gradient","Token Mean Gradient","Instance Influence","Segment Influence (Max)","Segment Influence (Mean)","Segment NN (Max)","Segment NN (Mean)"], "range": [[1,2],[1,0],[4,2],[6,2,1.5,2],[1,2],[1,0],[4,2],[6,2,1.5,2],[1,2],[1,0],[4,2],[6,2,1.5,2],[1,2],[1,0]]}, "legend": {"title": null}}
 },
 "layer": [
  {"transform": [{"filter": "datum.m === 'Random'"}], "mark": {"type": "line", "strokeWidth": 1.2, "opacity": 0.85, "clip": true}},
  {"transform": [{"filter": "datum.m !== 'Random'"}], "mark": {"type": "line", "strokeWidth": 1.2, "opacity": 0.85, "clip": true, "interpolate": "step-after"}}
 ]
}
]
}
